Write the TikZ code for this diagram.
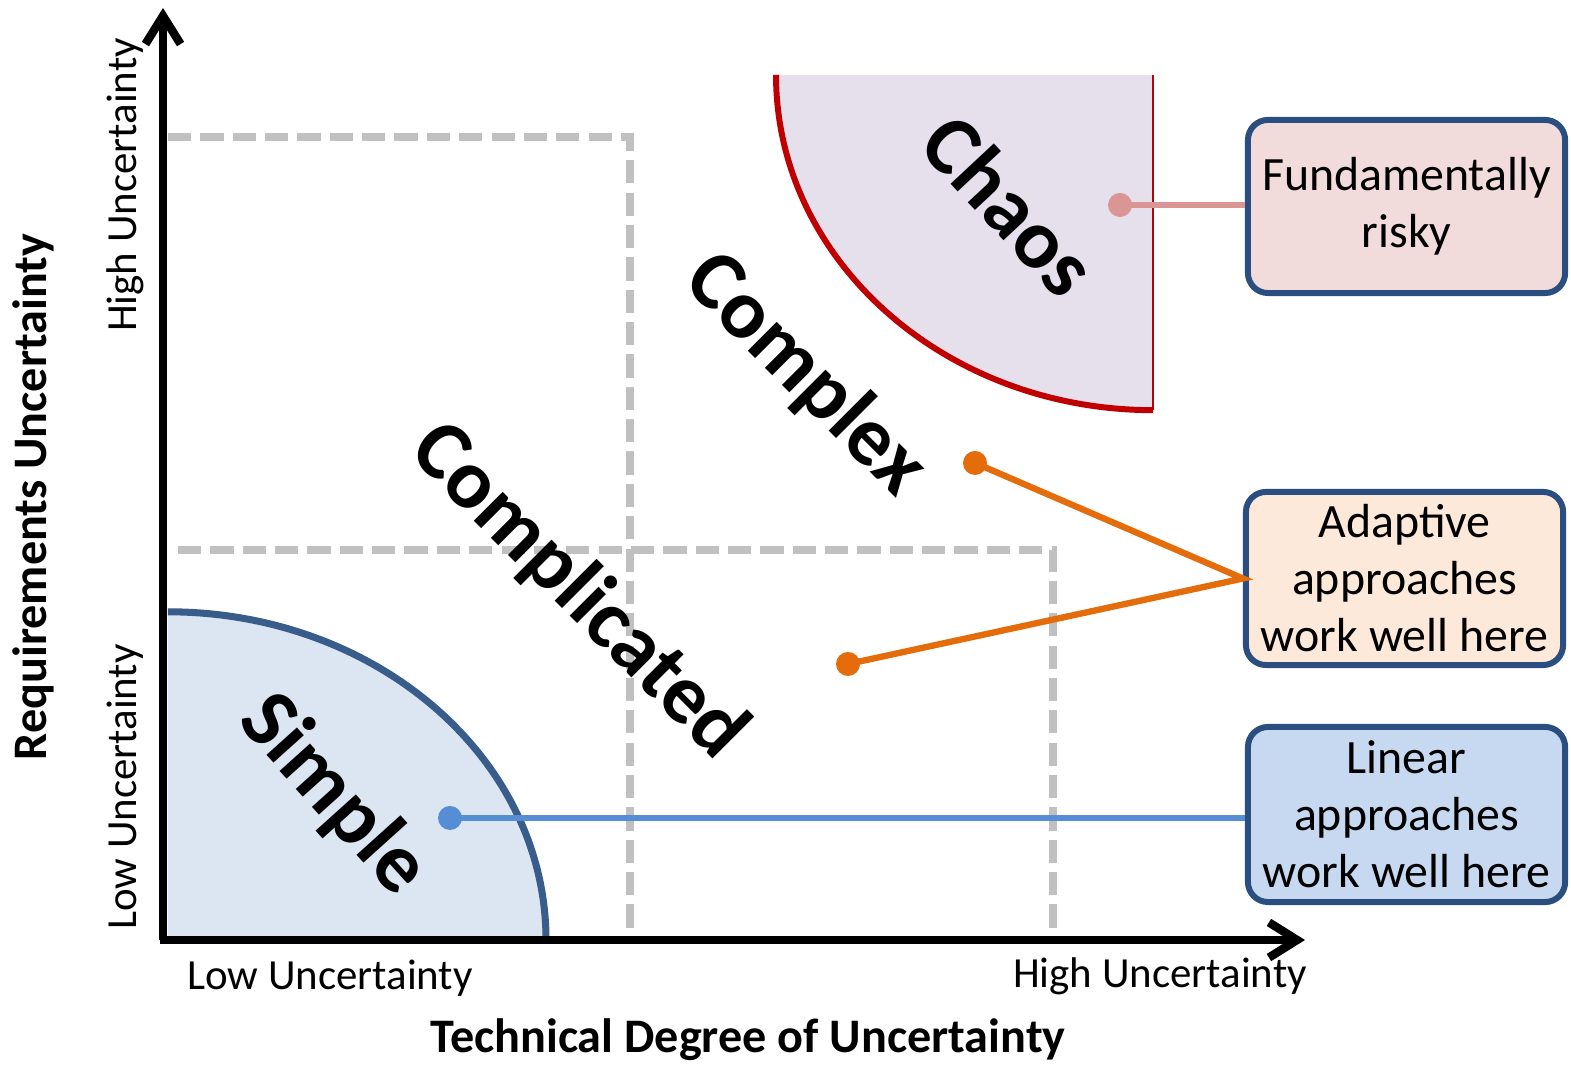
\documentclass[tikz,border=0pt]{standalone}
\usepackage{fontspec}
\setmainfont{Carlito}
\usetikzlibrary{arrows.meta,shadows}
\definecolor{simplefill}{HTML}{DCE6F2}
\definecolor{simpleedge}{HTML}{385D8A}
\definecolor{chaosfill}{HTML}{E5E0EC}
\definecolor{chaosedge}{HTML}{C00000}
\definecolor{riskline}{HTML}{D99694}
\definecolor{adaptline}{HTML}{E46C0A}
\definecolor{linearline}{HTML}{558ED5}
\definecolor{boxedge}{HTML}{2A4E80}
\definecolor{riskfill}{HTML}{F2DCDB}
\definecolor{adaptfill}{HTML}{FDE9D9}
\definecolor{linearfill}{HTML}{C6D9F1}
\definecolor{zonegrey}{HTML}{C0C0C0}
\tikzset{
  axis/.style={line width=2.4pt,-{Straight Barb[length=8pt,width=10pt,line width=2.4pt]}},
  zone/.style={draw=zonegrey,line width=2.2pt,dash pattern=on 6.6pt off 2.6pt},
  region/.style={font=\bfseries\fontsize{24}{28}\selectfont,inner sep=0pt},
  ticklabel/.style={font=\fontsize{12.2}{14}\selectfont,inner sep=0pt},
  axistitle/.style={font=\bfseries\fontsize{13.7}{16}\selectfont,inner sep=0pt},
  callout/.style={draw=boxedge,line width=1.7pt,rounded corners=0.2cm,
    minimum width=3.17cm,minimum height=1.73cm,align=center,inner sep=0pt,
    font=\fontsize{13.6}{16.2}\selectfont,
    drop shadow={opacity=0.2,shadow xshift=0.6pt,shadow yshift=-0.8pt}},
  link/.style={line width=1.8pt},
}
\begin{document}
\begin{tikzpicture}[x=0.01cm,y=0.01cm]
\useasboundingbox (0,0) rectangle (1571,1065);
% regions
\fill[simplefill] (168,125) -- (546,125) arc[start angle=0,end angle=90,x radius=3.78cm,y radius=3.28cm] -- cycle;
\draw[simpleedge,line width=2pt] (546,125) arc[start angle=0,end angle=90,x radius=3.78cm,y radius=3.28cm];
\fill[chaosfill] (1153,990) -- (776,990) arc[start angle=180,end angle=270,x radius=3.77cm,y radius=3.35cm] -- cycle;
\draw[chaosedge,line width=1.7pt] (776,990) arc[start angle=180,end angle=270,x radius=3.77cm,y radius=3.35cm];
\draw[chaosedge,line width=0.6pt] (1153,655) -- (1153,990);
% dashed zones
\draw[zone] (168,928) -- (630,928) -- (630,125);
\draw[zone] (178,515) -- (1053,515) -- (1053,125);
% axes
\coordinate (origin) at (163,125);
\draw[axis] (160,125) -- (1305,125);
\draw[axis] (origin) -- (163,1057);
% axis labels
\node[ticklabel] (xlow) at (330,87) {Low Uncertainty};
\node[ticklabel] (xhigh) at (1160,89) {High Uncertainty};
\node[axistitle] (xtitle) at (748,25) {Technical Degree of Uncertainty};
\node[axistitle,rotate=90] (ytitle) at (33,568) {Requirements Uncertainty};
\node[ticklabel,rotate=90] (yhigh) at (125,880) {High Uncertainty};
\node[ticklabel,rotate=90] (ylow) at (125,278) {Low Uncertainty};
% region names
\node[region,rotate=-47] (chaos) at (1010,860) {Chaos};
\node[region,rotate=-45] (complex) at (805,690) {Complex};
\node[region,rotate=-45] (complicated) at (578,473) {Complicated};
\node[region,rotate=-48] (simple) at (333,270) {Simple};
% callouts
\node[callout,fill=riskfill] (risky) at (1406.5,858.5) {Fundamentally\\risky};
\node[callout,fill=adaptfill] (adaptive) at (1404.5,486.5) {Adaptive\\approaches\\work well here};
\node[callout,fill=linearfill,minimum height=1.75cm] (linear) at (1406.5,250.5) {Linear\\approaches\\work well here};
% connectors
\coordinate (riskdot) at (1120,860);
\coordinate (complexdot) at (975,602);
\coordinate (complicateddot) at (848,401);
\coordinate (simpledot) at (450,247);
\draw[riskline,link] (riskdot) -- (riskdot -| risky.west);
\fill[riskline] (riskdot) circle (12);
\draw[adaptline,link] (complexdot) -- (adaptive.west) -- (complicateddot);
\fill[adaptline] (complexdot) circle (12);
\fill[adaptline] (complicateddot) circle (12);
\draw[linearline,link] (simpledot) -- (simpledot -| linear.west);
\fill[linearline] (simpledot) circle (12);
\end{tikzpicture}
\end{document}
